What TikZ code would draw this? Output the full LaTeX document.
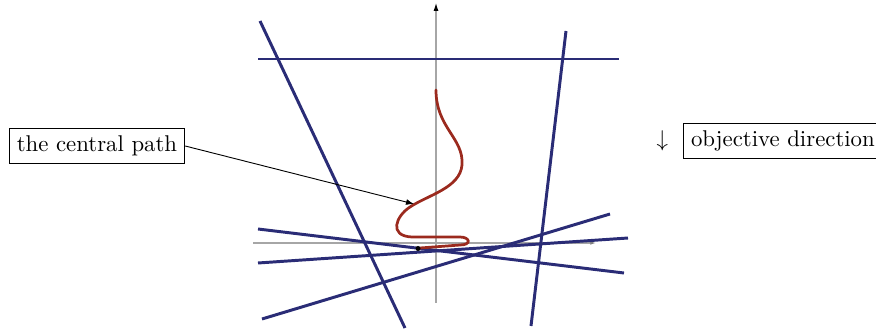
\documentclass[tikz,border=0pt]{standalone}
\usepackage{xcolor}
\usepackage{tikz}
\usetikzlibrary{arrows.meta, positioning}

\definecolor{navy}{RGB}{42,44,118}
\definecolor{brick}{RGB}{155,42,30}

\begin{document}
\begin{tikzpicture}[
    x=0.4386pt, y=-0.4386pt,
    node distance = 0.3cm,
    constr/.style = {draw=navy, line width=1.3pt},
    axis/.style   = {draw=gray!70, line width=0.45pt},
    cpath/.style  = {draw=brick, line width=1.2pt, line cap=round},
    lbl/.style    = {draw, rectangle, inner sep=3.33pt, font=\normalsize, text=black},
    arr/.style    = {-{Latex[length=3.5pt, width=2.6pt]}, thin, black}
]
\clip (0,0) rectangle (876,332);
% axes
\draw[axis, -{Latex[length=3.5pt, width=2.2pt, color=black]}] (436,303) -- (436,3);
\draw[axis, -{Latex[length=2.5pt, width=1.6pt, color=gray]}] (253,243) -- (596,243);
% constraints
\draw[constr] (258,59)  -- (619,59);
\draw[constr] (260,21)  -- (405,328);
\draw[constr] (566,31)  -- (531,326);
\draw[constr] (258,229) -- (624,273);
\draw[constr] (258,263) -- (628,238);
\draw[constr] (262,319) -- (610,214);
% central path
\draw[cpath] (436,90) .. controls (436,128) and (464,138) .. (462,165)
    .. controls (460,188) and (428,195) .. (410,207)
    .. controls (396,216) and (388,236) .. (412,237)
    -- (460,237) .. controls (470,237) and (472,245) .. (460,245)
    -- (420,248);
\fill[black] (418,248.5) circle (2.5);
\coordinate (cp) at (414,204);
% labels
\node[lbl] (cplabel) at (97,146) {the central path};
\node[lbl, anchor=west] (objdir) at (683,141) {objective direction};
\node[left=3pt of objdir] (down) {$\downarrow$};
\draw[arr] (cplabel.east) -- (cp);
\end{tikzpicture}
\end{document}
